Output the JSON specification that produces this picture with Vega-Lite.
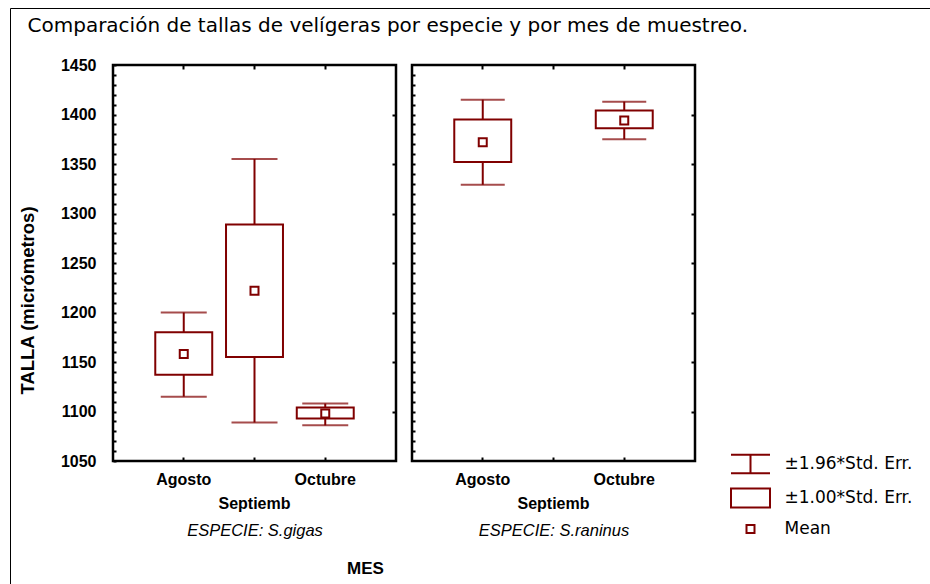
{
  "$schema": "https://vega.github.io/schema/vega-lite/v6.json",
  "background": "white",
  "padding": {"left": 9, "top": 7, "right": 0, "bottom": 0},
  "autosize": {"type": "pad"},
  "datasets": {
    "stats": [
      {"especie": "S.gigas", "mes": "Agosto", "media": 1158, "lo1": 1137, "hi1": 1180, "lo2": 1115, "hi2": 1200},
      {"especie": "S.gigas", "mes": "Septiemb", "media": 1222, "lo1": 1155, "hi1": 1289, "lo2": 1089, "hi2": 1355},
      {"especie": "S.gigas", "mes": "Octubre", "media": 1098, "lo1": 1093, "hi1": 1104, "lo2": 1086, "hi2": 1108},
      {"especie": "S.raninus", "mes": "Agosto", "media": 1372, "lo1": 1352, "hi1": 1395, "lo2": 1329, "hi2": 1415},
      {"especie": "S.raninus", "mes": "Octubre", "media": 1394, "lo1": 1386, "hi1": 1404, "lo2": 1375, "hi2": 1413}
    ],
    "leyenda": [
      {"item": "±1.96*Std. Err.", "marco": "marco"},
      {"item": "±1.00*Std. Err.", "marco": "marco"},
      {"item": "Mean", "marco": "marco"}
    ]
  },
  "bounds": "flush",
  "spacing": 16,
  "hconcat": [
    {
      "width": 283,
      "height": 396,
      "data": {"name": "stats"},
      "transform": [{"filter": "datum.especie === 'S.gigas'"}],
      "layer": [
        {
          "mark": {"type": "rule", "color": "#800000", "strokeWidth": 2},
          "encoding": {
            "x": {
              "field": "mes", "type": "nominal",
              "scale": {"domain": ["Agosto", "Septiemb", "Octubre"], "paddingInner": 0.195, "paddingOuter": 0.5975},
              "axis": {
                "orient": "bottom", "title": "ESPECIE: S.gigas", "domain": false, "grid": false,
                "bandPosition": 0.5, "tickSize": -4, "tickWidth": 2, "tickColor": "#000",
                "labelAngle": 0, "labelFont": "Liberation Sans", "labelFontSize": 16, "labelFontWeight": "bold", "labelColor": "#000",
                "labelBaseline": "top",
                "labelPadding": {"condition": {"test": "datum.value === 'Septiemb'", "value": 38}, "value": 14},
                "titleFont": "Liberation Sans", "titleFontSize": 16.5, "titleFontStyle": "italic", "titleFontWeight": "normal", "titleColor": "#000",
                "titleY": 61, "titleBaseline": "top", "minExtent": 0
              }
            },
            "y": {
              "field": "lo2", "type": "quantitative",
              "scale": {"domain": [1050, 1450], "nice": false, "zero": false},
              "axis": {
                "orient": "left", "title": "TALLA (micrómetros)", "domain": false, "grid": false,
                "values": [1050,1060,1070,1080,1090,1100,1110,1120,1130,1140,1150,1160,1170,1180,1190,1200,1210,1220,1230,1240,1250,1260,1270,1280,1290,1300,1310,1320,1330,1340,1350,1360,1370,1380,1390,1400,1410,1420,1430,1440,1450],
                "labelExpr": "datum.value % 50 === 0 ? datum.value : ''",
                "labelOverlap": false, "labelFlush": false,
                "tickSize": -3, "tickWidth": 2, "tickColor": "#000",
                "labelFont": "Liberation Sans", "labelFontSize": 16, "labelFontWeight": "bold", "labelColor": "#000",
                "labelPadding": 20,
                "titleFont": "Liberation Sans", "titleFontSize": 18.5, "titleFontWeight": "bold", "titleColor": "#000",
                "titleAngle": 270, "titleBaseline": "alphabetic", "titleAlign": "center",
                "titleX": -80, "titleY": 235, "minExtent": 0
              }
            },
            "y2": {"field": "hi2"}
          }
        },
        {
          "mark": {"type": "tick", "color": "#800000", "thickness": 2, "size": 46, "orient": "horizontal"},
          "encoding": {
            "x": {
              "field": "mes", "type": "nominal",
              "axis": {
                "orient": "top", "labels": false, "domain": false, "grid": false, "bandPosition": 0.5, "tickSize": -4, "tickWidth": 2, "tickColor": "#000", "minExtent": 0,
                "title": "Comparación de tallas de velígeras por especie y por mes de muestreo.",
                "titleFont": "DejaVu Sans", "titleFontSize": 20, "titleFontWeight": "normal", "titleColor": "#000",
                "titleAlign": "left", "titleBaseline": "top", "titleAngle": 0,
                "titleX": -86, "titleY": -50
              }
            },
            "y": {
              "field": "lo2", "type": "quantitative",
              "axis": {"orient": "right", "title": null, "labels": false, "domain": false, "grid": false, "values": [1100,1150,1200,1250,1300,1350,1400], "tickSize": -4, "tickWidth": 2, "tickColor": "#000", "minExtent": 0}
            }
          }
        },
        {
          "mark": {"type": "tick", "color": "#800000", "thickness": 2, "size": 46, "orient": "horizontal"},
          "encoding": {
            "x": {"field": "mes", "type": "nominal", "axis": null},
            "y": {"field": "hi2", "type": "quantitative", "axis": null}
          }
        },
        {
          "mark": {"type": "bar", "fill": "white", "stroke": "#800000", "strokeWidth": 2},
          "encoding": {
            "x": {"field": "mes", "type": "nominal", "axis": null},
            "y": {"field": "lo1", "type": "quantitative", "axis": null},
            "y2": {"field": "hi1"}
          }
        },
        {
          "mark": {"type": "point", "shape": "square", "filled": false, "size": 64, "color": "#800000", "strokeWidth": 2, "opacity": 1},
          "encoding": {
            "x": {"field": "mes", "type": "nominal", "axis": null},
            "y": {"field": "media", "type": "quantitative", "axis": null}
          }
        }
      ],
      "resolve": {"axis": {"x": "independent", "y": "independent"}}
    },
    {
      "width": 283,
      "height": 396,
      "layer": [
        {
          "data": {"name": "stats"},
          "transform": [{"filter": "datum.especie === 'S.raninus'"}],
          "layer": [
            {
              "mark": {"type": "rule", "color": "#800000", "strokeWidth": 2},
              "encoding": {
                "x": {
                  "field": "mes", "type": "nominal",
                  "scale": {"domain": ["Agosto", "Septiemb", "Octubre"], "paddingInner": 0.195, "paddingOuter": 0.5975},
                  "axis": {
                    "orient": "bottom", "title": "ESPECIE: S.raninus", "domain": false, "grid": false,
                    "bandPosition": 0.5, "tickSize": -4, "tickWidth": 2, "tickColor": "#000",
                    "labelAngle": 0, "labelFont": "Liberation Sans", "labelFontSize": 16, "labelFontWeight": "bold", "labelColor": "#000",
                    "labelBaseline": "top",
                    "labelPadding": {"condition": {"test": "datum.value === 'Septiemb'", "value": 38}, "value": 14},
                    "titleFont": "Liberation Sans", "titleFontSize": 16.5, "titleFontStyle": "italic", "titleFontWeight": "normal", "titleColor": "#000",
                    "titleY": 61, "titleBaseline": "top", "minExtent": 0
                  }
                },
                "y": {
                  "field": "lo2", "type": "quantitative",
                  "scale": {"domain": [1050, 1450], "nice": false, "zero": false},
                  "axis": {
                    "orient": "left", "title": null, "labels": false, "domain": false, "grid": false,
                    "values": [1060,1070,1080,1090,1100,1110,1120,1130,1140,1150,1160,1170,1180,1190,1200,1210,1220,1230,1240,1250,1260,1270,1280,1290,1300,1310,1320,1330,1340,1350,1360,1370,1380,1390,1400,1410,1420,1430,1440],
                    "tickSize": -3, "tickWidth": 2, "tickColor": "#000", "minExtent": 0
                  }
                },
                "y2": {"field": "hi2"}
              }
            },
            {
              "mark": {"type": "tick", "color": "#800000", "thickness": 2, "size": 44, "orient": "horizontal"},
              "encoding": {
                "x": {
                  "field": "mes", "type": "nominal",
                  "axis": {
                    "orient": "top", "labels": false, "domain": false, "grid": false, "bandPosition": 0.5, "tickSize": -4, "tickWidth": 2, "tickColor": "#000", "minExtent": 0,
                    "title": "MES",
                    "titleFont": "Liberation Sans", "titleFontSize": 17, "titleFontWeight": "bold", "titleColor": "#000",
                    "titleAlign": "center", "titleBaseline": "middle", "titleAngle": 0,
                    "titleX": -47, "titleY": 503
                  }
                },
                "y": {
                  "field": "lo2", "type": "quantitative",
                  "axis": {"orient": "right", "title": null, "labels": false, "domain": false, "grid": false, "values": [1100,1150,1200,1250,1300,1350,1400], "tickSize": -4, "tickWidth": 2, "tickColor": "#000", "minExtent": 0}
                }
              }
            },
            {
              "mark": {"type": "tick", "color": "#800000", "thickness": 2, "size": 44, "orient": "horizontal"},
              "encoding": {
                "x": {"field": "mes", "type": "nominal", "axis": null},
                "y": {"field": "hi2", "type": "quantitative", "axis": null}
              }
            },
            {
              "mark": {"type": "bar", "fill": "white", "stroke": "#800000", "strokeWidth": 2},
              "encoding": {
                "x": {"field": "mes", "type": "nominal", "axis": null},
                "y": {"field": "lo1", "type": "quantitative", "axis": null},
                "y2": {"field": "hi1"}
              }
            },
            {
              "mark": {"type": "point", "shape": "square", "filled": false, "size": 64, "color": "#800000", "strokeWidth": 2, "opacity": 1},
              "encoding": {
                "x": {"field": "mes", "type": "nominal", "axis": null},
                "y": {"field": "media", "type": "quantitative", "axis": null}
              }
            }
          ],
          "resolve": {"axis": {"x": "independent", "y": "independent"}}
        },
        {
          "data": {"name": "leyenda"},
          "transform": [{"filter": "false"}],
          "mark": {"type": "point", "filled": false, "color": "#800000", "strokeWidth": 2},
          "encoding": {
            "shape": {
              "field": "item", "type": "nominal",
              "scale": {
                "domain": ["±1.96*Std. Err.", "±1.00*Std. Err.", "Mean"],
                "range": ["M-1.95,-0.93H1.95M0,-0.93V0.93M-1.95,0.93H1.95", "M-1.95,-0.95H1.95V0.95H-1.95Z", "M-0.4,-0.4H0.4V0.4H-0.4Z"]
              },
              "legend": {
                "orient": "none", "legendX": 626.5, "legendY": 388, "title": null,
                "symbolSize": 400, "symbolStrokeColor": "#800000", "symbolFillColor": "transparent",
                "symbolStrokeWidth": 2, "symbolOpacity": 1,
                "labelFont": "DejaVu Sans", "labelFontSize": 17, "labelColor": "#000", "labelOffset": 23,
                "rowPadding": 6, "labelLimit": 300, "padding": 0
              }
            }
          }
        },
        {
          "data": {"name": "leyenda"},
          "transform": [{"filter": "false"}],
          "mark": {"type": "point", "filled": false, "color": "#000000"},
          "encoding": {
            "strokeDash": {
              "field": "marco", "type": "nominal",
              "scale": {"domain": ["marco"]},
              "legend": {
                "orient": "none", "legendX": -103, "legendY": -57, "title": null,
                "padding": 470, "symbolOpacity": 0, "symbolSize": 1, "labelExpr": "''", "labelFontSize": 1,
                "strokeColor": "#000000",
                "encode": {"legend": {"update": {"strokeWidth": {"value": 2}}}}
              }
            }
          }
        }
      ]
    }
  ],
  "config": {
    "view": {"stroke": "#000000", "strokeWidth": 2.5},
    "axis": {"minExtent": 0}
  }
}
